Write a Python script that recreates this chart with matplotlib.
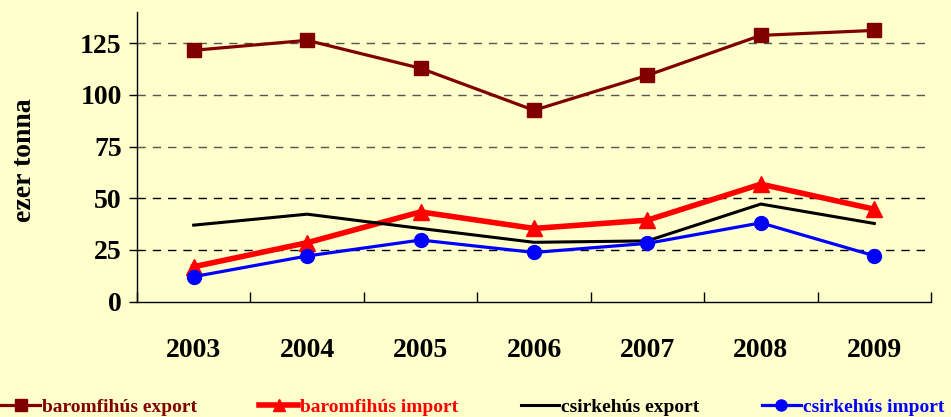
import matplotlib
matplotlib.use("Agg")
import matplotlib.pyplot as plt

years = ["2003", "2004", "2005", "2006", "2007", "2008", "2009"]
baromfi_export = [121.5, 126.3, 112.8, 92.5, 109.4, 128.7, 131.1]
baromfi_import = [16.9, 28.5, 43.4, 35.4, 39.4, 56.8, 44.7]
csirke_export = [37.0, 42.3, 35.4, 28.7, 29.4, 47.2, 37.8]
csirke_import = [12.1, 22.1, 29.8, 23.8, 28.2, 38.1, 22.2]
yticks = [0, 25, 50, 75, 100, 125]

plt.rcParams['font.family'] = ['Liberation Serif', 'DejaVu Serif']
plt.rcParams['font.weight'] = 'bold'

bg = '#FFFFCC'
fig = plt.figure(figsize=(9.51, 4.17), dpi=100, facecolor=bg)
ax = fig.add_axes([137 / 951, 1 - 301.7 / 417, (931 - 137) / 951, (301.7 - 12) / 417])
ax.set_facecolor(bg)

x = list(range(len(years)))
ax.plot(x, baromfi_export, color='#800000', lw=2.3, marker='s', ms=10, label='baromfihús export', zorder=3)
ax.plot(x, baromfi_import, color='#FF0000', lw=4, marker='^', ms=11, label='baromfihús import', zorder=3)
ax.plot(x, csirke_export, color='black', lw=2.2, label='csirkehús export', zorder=3)
ax.plot(x, csirke_import, color='#0000FF', lw=2.3, marker='o', ms=10, label='csirkehús import', zorder=4)

ax.set_xlim(-0.5, len(years) - 0.5)
ax.set_ylim(0, 140)
ax.set_yticks(yticks)
ax.set_yticklabels([str(v) for v in yticks], fontsize=20, fontweight='bold')
ax.set_xticks([i - 0.5 for i in range(len(years) + 1)])
ax.set_xticklabels([])
ax.set_xticks(x, minor=True)
ax.set_xticklabels(years, minor=True, fontsize=20, fontweight='bold')
ax.tick_params(axis='x', which='major', length=7, direction='in', color='black', width=1)
ax.tick_params(axis='x', which='minor', length=0, pad=26)
ax.tick_params(axis='y', length=6, direction='out', width=1, pad=5)

for v in yticks[1:]:
    c = '#555555' if v >= 75 else 'black'
    ax.axhline(v, color=c, lw=1, ls=(0, (6, 5)), zorder=1)

for s in ['top', 'right']:
    ax.spines[s].set_visible(False)
ax.spines['left'].set_linewidth(1)
ax.spines['bottom'].set_linewidth(1)

fig.text(25 / 951, 1 - 160 / 417, 'ezer tonna', rotation=90, ha='center', va='center',
         fontsize=20, fontweight='bold')

leg = fig.legend(loc='center', bbox_to_anchor=(0.497, 1 - 407 / 417), ncol=4, frameon=False,
                 fontsize=14, handlelength=2.0, handletextpad=0.1, columnspacing=3.2,
                 markerscale=0.8)
for t, h in zip(leg.get_texts(), leg.legend_handles):
    t.set_color(h.get_color())

fig.savefig('out.png', dpi=100, facecolor=bg)
